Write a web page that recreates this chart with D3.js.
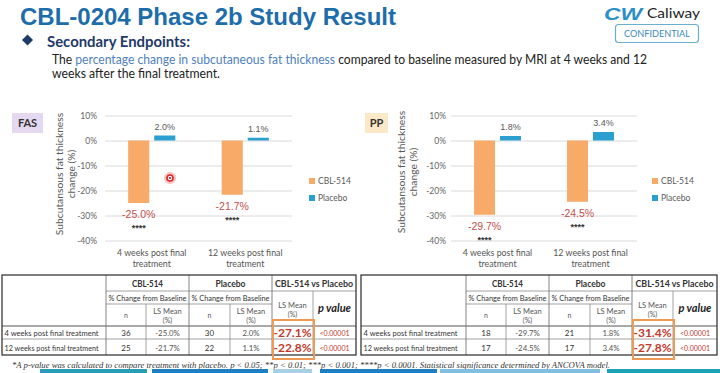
<!DOCTYPE html>
<html><head><meta charset="utf-8">
<script src="https://cdn.jsdelivr.net/npm/d3@7"></script>
<style>body{margin:0;background:#fff}svg{display:block}</style>
</head><body><svg id="c" width="720" height="373"></svg>
<script>
// ---------- data ----------
const categories = ["4 weeks post final treatment", "12 weeks post final treatment"];
const categoryLines = [["4 weeks post final", "treatment"], ["12 weeks post final", "treatment"]];
const seriesNames = ["CBL-514", "Placebo"];
const fasCBL = [-25.0, -21.7];
const fasPlacebo = [2.0, 1.1];
const ppCBL = [-29.7, -24.5];
const ppPlacebo = [1.8, 3.4];
const yTicks = [10, 0, -10, -20, -30, -40];
const significance = ["****", "****"];
const fasN_CBL = [36, 25];
const fasN_Placebo = [30, 22];
const fasDiff = [-27.1, -22.8];
const ppN_CBL = [18, 17];
const ppN_Placebo = [21, 17];
const ppDiff = [-31.4, -27.8];
const pValues = ["<0.00001", "<0.00001"];

const colors = {"CBL-514": "#f8ab68", "Placebo": "#2a9fd0"};
const SANS = "Lato, 'Open Sans', sans-serif";
const svg = d3.select("#c");
const fmt = v => v.toFixed(1) + "%";

// ---------- header ----------
svg.append("text").attr("x", 20).attr("y", 25).text("CBL-0204 Phase 2b Study Result")
  .attr("font-family", "'Liberation Sans', Arial, sans-serif").attr("font-weight", "bold")
  .attr("font-size", 24).attr("fill", "#1e6dab")
  .attr("textLength", 376).attr("lengthAdjust", "spacingAndGlyphs");

svg.append("path").attr("d", "M27.5,34.5 L33,40 L27.5,45.5 L22,40 Z").attr("fill", "#1f3a68");
svg.append("text").attr("x", 47).attr("y", 47).text("Secondary Endpoints:")
  .attr("font-family", SANS).attr("font-weight", "bold").attr("font-size", 15)
  .attr("fill", "#1f3a68").attr("textLength", 143).attr("lengthAdjust", "spacingAndGlyphs");

const l1 = svg.append("text").attr("x", 52).attr("y", 64).attr("font-family", SANS)
  .attr("font-size", 12.5).attr("fill", "#222").attr("textLength", 595).attr("lengthAdjust", "spacingAndGlyphs");
l1.append("tspan").text("The ");
l1.append("tspan").attr("fill", "#4f81bd").text("percentage change in subcutaneous fat thickness");
l1.append("tspan").text(" compared to baseline measured by MRI at 4 weeks and 12");
svg.append("text").attr("x", 52).attr("y", 78).attr("font-family", SANS)
  .attr("font-size", 12.5).attr("fill", "#222").text("weeks after the final treatment.")
  .attr("textLength", 168).attr("lengthAdjust", "spacingAndGlyphs");

// logo
svg.append("text").attr("x", 604).attr("y", 20).text("CW")
  .attr("font-family", "'Liberation Sans', Arial, sans-serif").attr("font-weight", "bold")
  .attr("font-style", "italic").attr("font-size", 16).attr("fill", "#2b8fc8")
  .attr("textLength", 38).attr("lengthAdjust", "spacingAndGlyphs");
svg.append("text").attr("x", 647).attr("y", 18).text("Caliway")
  .attr("font-family", SANS).attr("font-size", 14).attr("fill", "#222")
  .attr("textLength", 53).attr("lengthAdjust", "spacingAndGlyphs");
svg.append("rect").attr("x", 615.5).attr("y", 24.5).attr("width", 83).attr("height", 18).attr("rx", 3)
  .attr("fill", "#fff").attr("stroke", "#6aaed0").attr("stroke-width", 1.2);
svg.append("text").attr("x", 657).attr("y", 37).attr("text-anchor", "middle").text("CONFIDENTIAL")
  .attr("font-family", SANS).attr("font-size", 9.5).attr("fill", "#3b8bbd")
  .attr("textLength", 66).attr("lengthAdjust", "spacingAndGlyphs");

// ---------- charts ----------
function chart(opt) {
  const g = svg.append("g");
  g.append("rect").attr("x", opt.tag.x).attr("y", 113).attr("width", opt.tag.w).attr("height", 20)
    .attr("fill", opt.tag.fill);
  g.append("text").attr("x", opt.tag.x + opt.tag.w / 2).attr("y", 127).attr("text-anchor", "middle")
    .attr("font-family", SANS).attr("font-weight", "bold").attr("font-size", 11).attr("fill", "#333")
    .text(opt.tag.label);

  const y = d3.scaleLinear().domain([-40, 10]).range([240.5, 115.5]);
  const x0 = d3.scaleBand().domain(categories).range([opt.x0, opt.x1]);
  const x1 = d3.scaleBand().domain(seriesNames).range([0, x0.bandwidth()])
    .paddingInner(0.19).paddingOuter(0.89);

  const ax = g.append("g").attr("transform", `translate(${opt.x0},0)`)
    .call(d3.axisLeft(y).tickValues(yTicks).tickSizeInner(-(opt.x1 - opt.x0)).tickSizeOuter(0)
      .tickPadding(opt.pad).tickFormat(d => d + "%"));
  ax.select(".domain").remove();
  ax.selectAll(".tick line").attr("stroke", "#dadada");
  ax.selectAll(".tick text").attr("font-family", SANS).attr("font-size", 8.5).attr("fill", "#666");

  const rows = categories.flatMap((c, i) => [
    {cat: c, s: "CBL-514", v: opt.cbl[i], i},
    {cat: c, s: "Placebo", v: opt.pla[i], i}
  ]);
  g.selectAll(".bar").data(rows).join("rect")
    .attr("x", d => x0(d.cat) + x1(d.s)).attr("width", x1.bandwidth())
    .attr("y", d => y(Math.max(0, d.v))).attr("height", d => Math.abs(y(d.v) - y(0)))
    .attr("fill", d => colors[d.s]);

  rows.forEach(d => {
    const cx = x0(d.cat) + x1(d.s) + x1.bandwidth() / 2;
    if (d.v >= 0) {
      g.append("text").attr("x", cx).attr("y", y(d.v) - 6).attr("text-anchor", "middle")
        .attr("font-family", "'Liberation Sans', Arial, sans-serif").attr("font-size", 9)
        .attr("fill", "#595959").text(fmt(d.v));
    } else {
      const b = y(d.v);
      g.append("text").attr("x", cx).attr("y", b + 15).attr("text-anchor", "middle")
        .attr("font-family", "'Liberation Sans', Arial, sans-serif").attr("font-size", 10.5)
        .attr("fill", "#c0504d").text(fmt(d.v));
      g.append("text").attr("x", cx).attr("y", b + 28).attr("text-anchor", "middle")
        .attr("font-family", "'Liberation Sans', Arial, sans-serif").attr("font-size", 9)
        .attr("font-weight", "bold").attr("fill", "#333").text(significance[d.i]);
    }
  });

  categories.forEach((c, i) => {
    const t = g.append("text").attr("x", x0(c) + x0.bandwidth() / 2).attr("y", 256)
      .attr("text-anchor", "middle").attr("font-family", SANS).attr("font-size", 8.8).attr("fill", "#555");
    t.append("tspan").attr("x", x0(c) + x0.bandwidth() / 2).text(categoryLines[i][0]);
    t.append("tspan").attr("x", x0(c) + x0.bandwidth() / 2).attr("dy", 11).text(categoryLines[i][1]);
  });

  const yt = g.append("text").attr("transform", `translate(${opt.ty},${opt.tyc}) rotate(-90)`)
    .attr("text-anchor", "middle").attr("font-family", SANS).attr("font-size", 10.3).attr("fill", "#595959");
  yt.append("tspan").attr("x", 0).attr("y", 0).text("Subcutansous fat thickness");
  yt.append("tspan").attr("x", 0).attr("y", 11.5).text("change (%)");

  seriesNames.forEach((s, i) => {
    const ly = 181 + i * 17;
    g.append("rect").attr("x", opt.lx).attr("y", ly - 3).attr("width", 6).attr("height", 6).attr("fill", colors[s]);
    g.append("text").attr("x", opt.lx + 9).attr("y", ly + 3).attr("font-family", SANS)
      .attr("font-size", 8.5).attr("fill", "#595959").text(s);
  });
  return g;
}

chart({x0: 105, x1: 292, pad: 8, cbl: fasCBL, pla: fasPlacebo, ty: 63, tyc: 174, lx: 309,
  tag: {x: 12, w: 31, fill: "#e4d9f1", label: "FAS"}});
chart({x0: 451, x1: 637, pad: 5, cbl: ppCBL, pla: ppPlacebo, ty: 405, tyc: 172, lx: 652,
  tag: {x: 365, w: 23, fill: "#fbe8c6", label: "PP"}});

// cursor marker
svg.append("circle").attr("cx", 170).attr("cy", 178).attr("r", 6).attr("fill", "#f6b4b4").attr("opacity", 0.8);
svg.append("circle").attr("cx", 170).attr("cy", 178).attr("r", 3).attr("fill", "#fff").attr("stroke", "#d9252a").attr("stroke-width", 1.6);
svg.append("circle").attr("cx", 170).attr("cy", 178).attr("r", 1.1).attr("fill", "#b01c20");

// ---------- tables ----------
const rowsY = [275, 291, 304, 326, 339, 355];
function table(xs, nC, nP, vC, vP, diff) {
  const g = svg.append("g");
  const L = xs[0], R = xs[7];
  const line = (x1, y1, x2, y2, c = "#8a8a8a", w = 0.8) =>
    g.append("line").attr("x1", x1).attr("y1", y1).attr("x2", x2).attr("y2", y2).attr("stroke", c).attr("stroke-width", w);
  line(xs[1], rowsY[1], R, rowsY[1]);
  line(xs[1], rowsY[2], xs[5], rowsY[2]);
  line(L, rowsY[3], R, rowsY[3], "#555", 1);
  line(L, rowsY[4], R, rowsY[4]);
  [1, 3, 5].forEach(k => line(xs[k], rowsY[0], xs[k], rowsY[5], "#777", 0.9));
  [2, 4].forEach(k => line(xs[k], rowsY[2], xs[k], rowsY[5]));
  line(xs[6], rowsY[1], xs[6], rowsY[5]);
  g.append("rect").attr("x", L).attr("y", rowsY[0]).attr("width", R - L).attr("height", rowsY[5] - rowsY[0])
    .attr("fill", "none").attr("stroke", "#3a3a3a").attr("stroke-width", 1.3);

  const txt = (x, y, s, o = {}) => {
    const t = g.append("text").attr("x", x).attr("y", y)
      .attr("text-anchor", o.anchor || "middle").attr("font-family", o.family || SANS)
      .attr("font-size", o.size || 8).attr("font-weight", o.weight || "normal")
      .attr("font-style", o.style || "normal").attr("fill", o.fill || "#333").text(s);
    if (o.len) t.attr("textLength", o.len).attr("lengthAdjust", "spacingAndGlyphs");
    return t;
  };
  const mid = (a, b) => (xs[a] + xs[b]) / 2;
  txt(mid(1, 3), 287, "CBL-514", {weight: "bold", size: 9.5, len: 31});
  txt(mid(3, 5), 287, "Placebo", {weight: "bold", size: 9.5, len: 30});
  txt(mid(5, 7), 287, "CBL-514 vs Placebo", {weight: "bold", size: 9.5, len: 78});
  txt(mid(1, 3), 300.5, "% Change from Baseline", {size: 7.8, len: 78});
  txt(mid(3, 5), 300.5, "% Change from Baseline", {size: 7.8, len: 78});
  [[1, 2], [3, 4]].forEach(([a, b]) => {
    txt(mid(a, a + 1), 318, "n", {size: 7, fill: "#555"});
    txt(mid(b, b + 1), 314, "LS Mean", {size: 7.5, fill: "#555"});
    txt(mid(b, b + 1), 323, "(%)", {size: 7, fill: "#555"});
  });
  txt(mid(5, 6), 308, "LS Mean", {size: 7.5, fill: "#555"});
  txt(mid(5, 6), 317, "(%)", {size: 7, fill: "#555"});
  txt(mid(6, 7), 312, "p value", {size: 11, weight: "bold", style: "italic", fill: "#222"});

  categories.forEach((c, i) => {
    const by = [336, 350.5][i];
    txt(L + 2.5, by, c, {anchor: "start", size: 8, len: 94});
    txt(mid(1, 2), by, nC[i], {size: 8});
    txt(mid(2, 3), by, fmt(vC[i]), {size: 7.8, fill: "#555"});
    txt(mid(3, 4), by, nP[i], {size: 8});
    txt(mid(4, 5), by, fmt(vP[i]), {size: 7.8, fill: "#555"});
    txt(mid(5, 6), by + 1, fmt(diff[i]), {size: 12, weight: "bold", fill: "#c0392b"});
    txt(mid(6, 7), by, pValues[i], {size: 7, fill: "#c0392b"});
  });
  g.append("rect").attr("x", xs[5] + 1).attr("y", 320).attr("width", xs[6] - xs[5]).attr("height", 39)
    .attr("fill", "none").attr("stroke", "#ee9a52").attr("stroke-width", 2);
}
table([2, 106, 146, 189, 230, 272, 313, 356], fasN_CBL, fasN_Placebo, fasCBL, fasPlacebo, fasDiff);
table([361, 466, 506, 549, 590, 632, 673, 717], ppN_CBL, ppN_Placebo, ppCBL, ppPlacebo, ppDiff);

svg.append("text").attr("x", 12).attr("y", 367.5)
  .text("*A p-value was calculated to compare treatment with placebo. p < 0.05; **p < 0.01; ***p < 0.001; ****p < 0.0001. Statistical significance determined by ANCOVA model.")
  .attr("font-family", "'Liberation Serif', 'Times New Roman', serif").attr("font-style", "italic")
  .attr("font-size", 8.5).attr("fill", "#333").attr("textLength", 598).attr("lengthAdjust", "spacingAndGlyphs");

// bottom strip
const strip = [[40, 147, "#2a9cb8"], [152, 268, "#1f7fc1"], [273, 312, "#a9cfe5"], [320, 437, "#1f7fc1"], [440, 600, "#7fbfe0"], [607, 720, "#1ca2b6"]];
svg.selectAll(".strip").data(strip).join("rect").attr("x", d => d[0]).attr("y", 369)
  .attr("width", d => d[1] - d[0]).attr("height", 4).attr("fill", d => d[2]);
</script></body></html>
